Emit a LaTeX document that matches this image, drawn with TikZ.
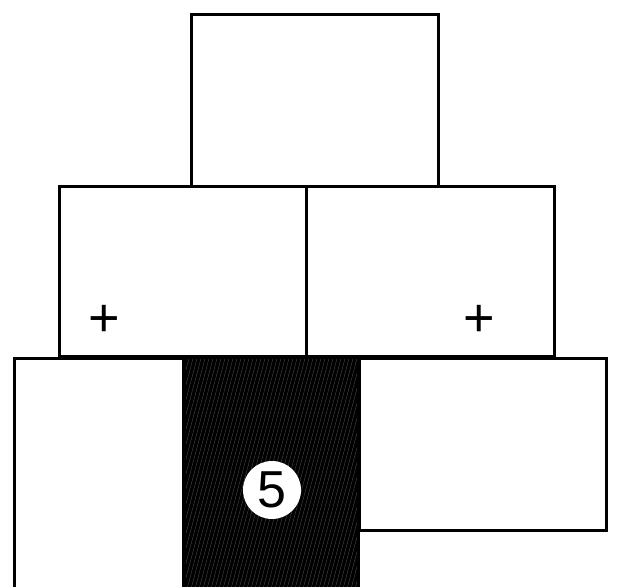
\documentclass[tikz,border=0pt]{standalone}
\usepackage{fontspec}
\setmainfont{Liberation Sans}
\begin{document}
\begin{tikzpicture}[x=1pt, y=-1pt, line width=3pt,
	box/.style={draw, line width=3pt, inner sep=0pt, anchor=north west},
	sign/.style={inner sep=0pt, font=\fontsize{54}{54}\selectfont}]
	\useasboundingbox (0,0) rectangle (636,586);
	\clip (0,0) rectangle (636,586);
	% hatched block
	\fill[black] (183,357) rectangle (358,600);
	\begin{scope}
		\clip (183,357) rectangle (358,600);
		\foreach \x in {120,124,...,360}
			\draw[line width=0.3pt, white!35!black] (\x,600) -- (\x+70,340);
	\end{scope}
	\draw (183,357) rectangle (358,600);
	% boxes
	\node[box, minimum width=247, minimum height=172] (top) at (190,13) {};
	\node[box, minimum width=247, minimum height=170] (midl) at (58,185) {};
	\node[box, minimum width=248, minimum height=170] (midr) at (305,185) {};
	\node[box, minimum width=170, minimum height=260] (botl) at (13,357) {};
	\node[box, minimum width=247, minimum height=172] (botr) at (358,357) {};
	% labels
	\node[sign] (plusl) at (104,321) {+};
	\node[sign] (plusr) at (479,321) {+};
	\node[circle, fill=white, minimum size=58, inner sep=0pt,
		font=\fontsize{52}{52}\selectfont] (five) at (272,490) {5};
\end{tikzpicture}
\end{document}
